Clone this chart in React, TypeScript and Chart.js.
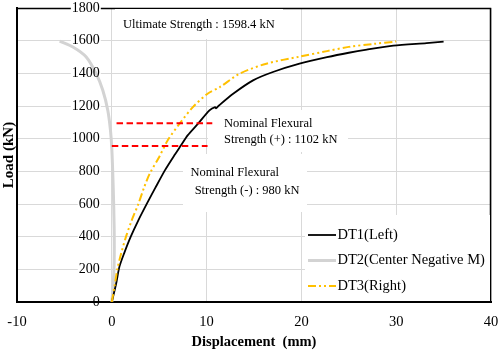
import { useEffect, useRef } from "react";
import { Chart, registerables } from "chart.js";

Chart.register(...registerables);

const SERIF = '"Liberation Serif", "Times New Roman", serif';

// ---- data ----
const seriesNames = ["DT1(Left)", "DT2(Center Negative M)", "DT3(Right)"];

const dt1X = [0, 0.45, 0.8, 1.3, 2.0, 2.8, 3.7, 4.6, 5.6, 6.6, 7.3, 8.0, 9.1, 10.3, 10.9, 11.0, 11.3, 12.8, 14.9, 17.0, 19.8, 22.7, 25.0, 26.9, 29.7, 33.2, 35.0];
const dt1Y = [0, 110, 215, 298, 400, 500, 602, 700, 806, 898, 959, 1020, 1092, 1173, 1193, 1186, 1203, 1275, 1357, 1408, 1459, 1499, 1526, 1545, 1569, 1585, 1594];

const dt2X = [-5.5, -4.1, -2.7, -1.65, -0.95, -0.42, -0.14, 0.0, 0.15, 0.25, 0.25, 0.15, 0.0];
const dt2Y = [1597, 1561, 1500, 1398, 1296, 1173, 1051, 940, 700, 450, 250, 100, 0];

const dt3X = [0, 0.3, 0.6, 1.0, 1.5, 2.1, 2.8, 3.4, 4.0, 5.0, 5.9, 7.15, 8.55, 10.1, 11.4, 13.5, 16.3, 19.8, 22.7, 25.0, 27.6, 30.0];
const dt3Y = [0, 100, 205, 300, 400, 500, 600, 700, 786, 888, 990, 1092, 1193, 1275, 1316, 1398, 1459, 1502, 1536, 1562, 1580, 1595];

const nomPosX = [0.5, 10.6];
const nomPosY = [1095, 1095];
const nomNegX = [0, 10.1];
const nomNegY = [955, 955];

const xTicks = [-10, 0, 10, 20, 30, 40];
const yTicks = [0, 200, 400, 600, 800, 1000, 1200, 1400, 1600, 1800];

const ultimateText = ["Ultimate Strength : 1598.4 kN"];
const nomPosText = ["Nominal Flexural", "Strength (+) : 1102 kN"];
const nomNegText = ["Nominal Flexural", " Strength (-) : 980 kN"];

const toPts = (xs: number[], ys: number[]) => xs.map((x, i) => ({ x, y: ys[i] }));

// text boxes: [left, top, width, height] bg, lines [x, y]
const boxes = [
  { bg: [115, 9, 168, 30], lines: ultimateText, pos: [[123, 25]] },
  { bg: [208, 110, 140, 42], lines: nomPosText, pos: [[224, 124], [224, 140]] },
  { bg: [183, 154, 124, 58], lines: nomNegText, pos: [[190.5, 173], [191.5, 190.5]] },
];

const decor = {
  id: "decor",
  beforeDatasetsDraw(chart: any) {
    const { ctx, chartArea: ca, scales } = chart;
    const x = scales.x;
    const y = scales.y;
    ctx.save();
    // top and right frame
    ctx.strokeStyle = "#000";
    ctx.lineWidth = 1.5;
    ctx.beginPath();
    ctx.moveTo(ca.left, ca.top + 0.5);
    ctx.lineTo(ca.right - 0.5, ca.top + 0.5);
    ctx.lineTo(ca.right - 0.5, ca.bottom);
    ctx.stroke();
    // white backgrounds
    ctx.fillStyle = "#fff";
    ctx.font = `14px ${SERIF}`;
    const x0 = x.getPixelForValue(0);
    for (const t of y.ticks) {
      if (t.value === 0) continue;
      const s = String(t.value);
      const w = ctx.measureText(s).width;
      const py = y.getPixelForValue(t.value);
      ctx.fillRect(x0 - 12 - w - 1, py - 5, w + 2, 10);
    }
    for (const b of boxes) ctx.fillRect(b.bg[0], b.bg[1], b.bg[2], b.bg[3]);
    // legend box
    ctx.fillRect(305, 215, ca.right - 306, ca.bottom - 216);
    ctx.restore();
  },
  afterDatasetsDraw(chart: any) {
    const { ctx, scales } = chart;
    const x = scales.x;
    const y = scales.y;
    ctx.save();
    ctx.fillStyle = "#000";
    ctx.textBaseline = "middle";
    // y tick labels at the x = 0 line
    ctx.font = `14px ${SERIF}`;
    ctx.textAlign = "right";
    const x0 = x.getPixelForValue(0);
    for (const t of y.ticks) {
      ctx.fillText(String(t.value), x0 - 12, y.getPixelForValue(t.value));
    }
    // annotations
    ctx.textAlign = "left";
    ctx.font = `12.5px ${SERIF}`;
    for (const b of boxes) {
      b.lines.forEach((s, i) => ctx.fillText(s, b.pos[i][0], b.pos[i][1]));
    }
    // legend
    ctx.font = `14.5px ${SERIF}`;
    const ly = [235, 260.5, 286];
    for (let i = 0; i < 3; i++) {
      const ds = chart.data.datasets[i];
      ctx.save();
      ctx.strokeStyle = ds.borderColor;
      ctx.lineWidth = ds.borderWidth;
      ctx.setLineDash(ds.borderDash || []);
      ctx.beginPath();
      ctx.moveTo(308, ly[i]);
      ctx.lineTo(336, ly[i]);
      ctx.stroke();
      ctx.restore();
      ctx.fillText(ds.label, 337.5, ly[i]);
    }
    ctx.restore();
  },
};

export default function App() {
  const ref = useRef<HTMLCanvasElement | null>(null);
  useEffect(() => {
    if (!ref.current) return;
    const chart = new Chart(ref.current, {
      type: "scatter",
      data: {
        datasets: [
          { label: seriesNames[0], data: toPts(dt1X, dt1Y), borderColor: "#000000", backgroundColor: "#000000", borderWidth: 1.8, showLine: true, pointRadius: 0, tension: 0.25, order: 1 },
          { label: seriesNames[1], data: toPts(dt2X, dt2Y), borderColor: "#d3d3d3", backgroundColor: "#d3d3d3", borderWidth: 3, showLine: true, pointRadius: 0, tension: 0.3, order: 2 },
          { label: seriesNames[2], data: toPts(dt3X, dt3Y), borderColor: "#ffc000", backgroundColor: "#ffc000", borderWidth: 2, borderDash: [8, 3, 2, 3, 2, 3], showLine: true, pointRadius: 0, tension: 0.3, order: 0 },
          { label: "nominal+", data: toPts(nomPosX, nomPosY), borderColor: "#ff0000", borderWidth: 2, borderDash: [6.5, 3.5], showLine: true, pointRadius: 0, tension: 0, order: -1 },
          { label: "nominal-", data: toPts(nomNegX, nomNegY), borderColor: "#ff0000", borderWidth: 2, borderDash: [6.5, 3.5], showLine: true, pointRadius: 0, tension: 0, order: -1 },
        ] as any,
      },
      options: {
        responsive: true,
        maintainAspectRatio: false,
        animation: false,
        layout: { padding: { top: 8, right: 9, left: 0, bottom: 0 } },
        plugins: { legend: { display: false }, tooltip: { enabled: false } },
        scales: {
          x: {
            type: "linear",
            min: -10,
            max: 40,
            afterBuildTicks: (s: any) => {
              s.ticks = xTicks.map((v) => ({ value: v }));
            },
            ticks: { font: { family: SERIF, size: 14.5 }, color: "#000", padding: 11, maxRotation: 0, autoSkip: false },
            grid: { color: "#d9d9d9", lineWidth: 1, drawTicks: false },
            border: { color: "#000", width: 2 },
            title: { display: true, text: "Displacement  (mm)", font: { family: SERIF, size: 14.5, weight: "bold" }, color: "#000", padding: { top: 0, bottom: 4 } },
            afterFit: (s: any) => {
              s.height = 53;
              s.paddingLeft = 0;
              s.paddingRight = 0;
            },
          },
          y: {
            type: "linear",
            min: 0,
            max: 1800,
            afterBuildTicks: (s: any) => {
              s.ticks = yTicks.map((v) => ({ value: v }));
            },
            ticks: { display: false },
            grid: { color: "#d9d9d9", lineWidth: 1, drawTicks: false },
            border: { color: "#000", width: 2 },
            title: { display: true, text: "Load (kN)", font: { family: SERIF, size: 15, weight: "bold" }, color: "#000", padding: 0 },
            afterFit: (s: any) => {
              s.width = 17;
              s.paddingTop = 0;
              s.paddingBottom = 0;
            },
          },
        } as any,
      },
      plugins: [decor],
    });
    return () => chart.destroy();
  }, []);
  return (
    <div style={{ position: "absolute", left: 0, top: 0, width: 500, height: 355, background: "#fff" }}>
      <canvas ref={ref} />
    </div>
  );
}
